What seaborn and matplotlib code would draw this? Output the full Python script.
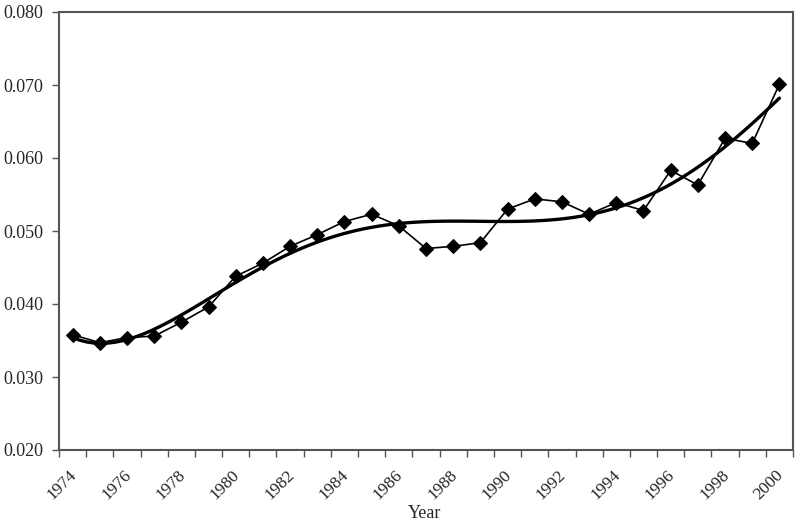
import numpy as np
import pandas as pd
import matplotlib
matplotlib.use("Agg")
import matplotlib.pyplot as plt
import matplotlib.transforms as mtransforms
import seaborn as sns
from matplotlib.ticker import FixedLocator, NullFormatter

years = list(range(1974, 2001))
values = [0.0358, 0.0347, 0.0354, 0.0356, 0.0375, 0.0396, 0.0438, 0.0456, 0.0479,
          0.0495, 0.0513, 0.0523, 0.0507, 0.0476, 0.0479, 0.0484, 0.0530, 0.0544,
          0.0540, 0.0523, 0.0539, 0.0528, 0.0583, 0.0563, 0.0627, 0.0620, 0.0701]
label_years = [str(y) for y in range(1974, 2001, 2)]

sns.set_theme(style="white")
plt.rcParams['font.family'] = ['Liberation Serif', 'DejaVu Serif']

df = pd.DataFrame({"pos": np.arange(len(years)), "year": years, "value": values})

fig = plt.figure(figsize=(8, 5.25), dpi=100)
ax = fig.add_axes([59/800, 1-450/525, (793-59)/800, (450-12)/525])

sns.regplot(data=df, x="pos", y="value", order=5, ci=None, scatter=False,
            truncate=True, line_kws=dict(color="black", lw=2.4), ax=ax)
sns.lineplot(data=df, x="pos", y="value", color="black", lw=1.2, marker="D",
             markersize=7, markeredgecolor="black", ax=ax)

ax.set_xlim(-0.5, len(years) - 0.5)
ax.set_ylim(0.020, 0.080)
ax.set_yticks(np.arange(0.020, 0.0801, 0.010))
ax.set_yticklabels([f"{v:.3f}" for v in np.arange(0.020, 0.0801, 0.010)])

ax.xaxis.set_major_locator(FixedLocator(np.arange(-0.5, len(years), 1.0)))
ax.xaxis.set_major_formatter(NullFormatter())
ax.xaxis.set_minor_locator(FixedLocator(np.arange(0, len(years), 2)))
ax.set_xticklabels(label_years, minor=True, rotation=45, ha="right",
                   rotation_mode="anchor", fontsize=12.5)
ax.tick_params(axis="x", which="minor", length=0, pad=12)
ax.tick_params(axis="both", which="major", direction="out", length=5,
               width=1, color="#555555", labelsize=13, bottom=True, left=True)
ax.tick_params(axis="y", pad=6)

shift = mtransforms.ScaledTranslation(-4/100, 0, fig.dpi_scale_trans)
for lbl in ax.get_xticklabels(minor=True):
    lbl.set_transform(lbl.get_transform() + shift)

for s in ax.spines.values():
    s.set_color("#555555")
    s.set_linewidth(1.5)
    s.set_visible(True)

ax.set_xlabel("")
ax.set_ylabel("")
fig.text(425/800, 1 - 513/525, "Year", ha="center", va="center", fontsize=13)

fig.savefig("out.png", dpi=100)
